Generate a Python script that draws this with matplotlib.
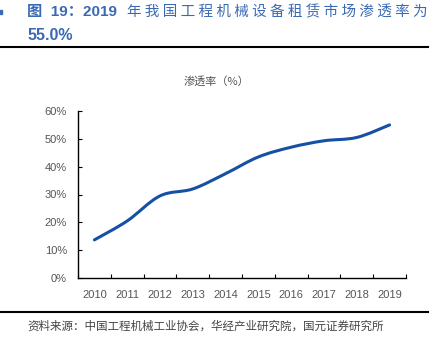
import numpy as np
import matplotlib.pyplot as plt
from matplotlib.path import Path
from matplotlib.patches import PathPatch, Rectangle

plt.rcParams['font.family'] = ['Noto Sans CJK SC', 'DejaVu Sans']

years = ['2010', '2011', '2012', '2013', '2014', '2015', '2016', '2017', '2018', '2019']
rate = [13.7, 20.5, 29.5, 32.0, 37.5, 43.5, 47.0, 49.3, 50.5, 55.0]

title_head = '图  19：2019'
title_cn = '年我国工程机械设备租赁市场渗透率为'
title2 = '55.0%'
subtitle = '渗透率（%）'
source = '资料来源：中国工程机械工业协会，华经产业研究院，国元证券研究所'

fig = plt.figure(figsize=(4.34, 3.44), dpi=100)
ax = fig.add_axes([78 / 434, 1 - 278 / 344, 328 / 434, 167 / 344])

# smooth line through the points (Catmull-Rom -> cubic bezier)
x = np.arange(len(years))
y = np.array(rate)
verts = [(x[0], y[0])]
codes = [Path.MOVETO]
for i in range(len(x) - 1):
    p0 = (x[max(i - 1, 0)], y[max(i - 1, 0)])
    p1 = (x[i], y[i])
    p2 = (x[i + 1], y[i + 1])
    p3 = (x[min(i + 2, len(x) - 1)], y[min(i + 2, len(x) - 1)])
    c1 = (p1[0] + (p2[0] - p0[0]) / 6, p1[1] + (p2[1] - p0[1]) / 6)
    c2 = (p2[0] - (p3[0] - p1[0]) / 6, p2[1] - (p3[1] - p1[1]) / 6)
    verts += [c1, c2, p2]
    codes += [Path.CURVE4] * 3
ax.add_patch(PathPatch(Path(verts, codes), fill=False, edgecolor='#1550A5',
                       lw=2.2, capstyle='round'))

tick_font = {'family': 'Liberation Sans', 'size': 8}
ax.set_xlim(-0.5, len(years) - 0.5)
ax.set_ylim(0, 60)
ax.set_xticks(x)
ax.set_xticklabels(years, fontdict=tick_font)
ax.set_xticks(np.arange(len(years) + 1) - 0.5, minor=True)
ax.tick_params(axis='x', which='major', length=0, pad=9, labelcolor='#555555')
ax.tick_params(axis='x', which='minor', direction='in', length=3, width=0.8)
ax.set_yticks(range(0, 61, 10))
ax.set_yticklabels([f'{v}%' for v in range(0, 61, 10)], fontdict=tick_font)
ax.tick_params(axis='y', direction='in', length=3, width=0.8, pad=8,
               labelcolor='#555555')
for s in ['top', 'right']:
    ax.spines[s].set_visible(False)
for s in ['left', 'bottom']:
    ax.spines[s].set_linewidth(1.0)

blue = '#3A6AB4'
fig.text(27 / 434, 1 - 12 / 344, title_head, color=blue, fontsize=11,
         fontweight='bold', va='center', ha='left',
         family=['Liberation Sans', 'Noto Sans CJK SC'])
fig.text(428 / 434, 1 - 12 / 344, ' '.join(title_cn), color=blue, fontsize=10.5,
         va='center', ha='right')
fig.text(27 / 434, 1 - 35 / 344, title2, color=blue, fontsize=11.5,
         fontweight='bold', va='center', ha='left', family='Liberation Sans')
fig.text(216 / 434, 1 - 81 / 344, subtitle, color='#555555', fontsize=8,
         va='center', ha='center')
fig.text(27 / 434, 1 - 326 / 344, source, color='#444444', fontsize=8.3,
         va='center', ha='left')

fig.add_artist(Rectangle((0, 1 - 14 / 344), 2 / 434, 4 / 344, color=blue,
                         transform=fig.transFigure))
fig.add_artist(plt.Line2D([0, 428 / 434], [1 - 47 / 344] * 2, color='black', lw=1.5))
fig.add_artist(plt.Line2D([0, 428 / 434], [1 - 312 / 344] * 2, color='black', lw=1.5))

fig.savefig('out.png', dpi=100)
